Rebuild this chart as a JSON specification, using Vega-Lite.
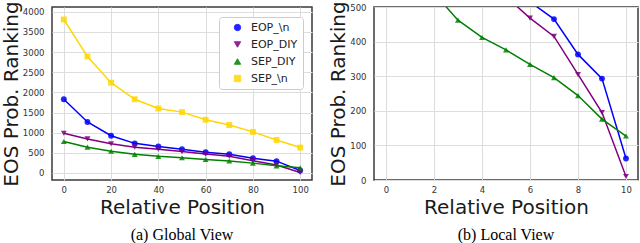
{
  "$schema": "https://vega.github.io/schema/vega-lite/v6.json",
  "padding": {"left": 0, "top": 0, "right": 2, "bottom": 0},
  "background": "white",
  "datasets": {
    "d": [
      {"series": "EOP_\\n", "pos": 0, "idx": 0, "rank": 1830},
      {"series": "EOP_\\n", "pos": 10, "idx": 1, "rank": 1265},
      {"series": "EOP_\\n", "pos": 20, "idx": 2, "rank": 925},
      {"series": "EOP_\\n", "pos": 30, "idx": 3, "rank": 735},
      {"series": "EOP_\\n", "pos": 40, "idx": 4, "rank": 655},
      {"series": "EOP_\\n", "pos": 50, "idx": 5, "rank": 590},
      {"series": "EOP_\\n", "pos": 60, "idx": 6, "rank": 515},
      {"series": "EOP_\\n", "pos": 70, "idx": 7, "rank": 465},
      {"series": "EOP_\\n", "pos": 80, "idx": 8, "rank": 363},
      {"series": "EOP_\\n", "pos": 90, "idx": 9, "rank": 293},
      {"series": "EOP_\\n", "pos": 100, "idx": 10, "rank": 62},
      {"series": "EOP_DIY", "pos": 0, "idx": 0, "rank": 985},
      {"series": "EOP_DIY", "pos": 10, "idx": 1, "rank": 845},
      {"series": "EOP_DIY", "pos": 20, "idx": 2, "rank": 725},
      {"series": "EOP_DIY", "pos": 30, "idx": 3, "rank": 640},
      {"series": "EOP_DIY", "pos": 40, "idx": 4, "rank": 590},
      {"series": "EOP_DIY", "pos": 50, "idx": 5, "rank": 530},
      {"series": "EOP_DIY", "pos": 60, "idx": 6, "rank": 468},
      {"series": "EOP_DIY", "pos": 70, "idx": 7, "rank": 415},
      {"series": "EOP_DIY", "pos": 80, "idx": 8, "rank": 305},
      {"series": "EOP_DIY", "pos": 90, "idx": 9, "rank": 195},
      {"series": "EOP_DIY", "pos": 100, "idx": 10, "rank": 10},
      {"series": "SEP_DIY", "pos": 0, "idx": 0, "rank": 780},
      {"series": "SEP_DIY", "pos": 10, "idx": 1, "rank": 640},
      {"series": "SEP_DIY", "pos": 20, "idx": 2, "rank": 540},
      {"series": "SEP_DIY", "pos": 30, "idx": 3, "rank": 462},
      {"series": "SEP_DIY", "pos": 40, "idx": 4, "rank": 412},
      {"series": "SEP_DIY", "pos": 50, "idx": 5, "rank": 376},
      {"series": "SEP_DIY", "pos": 60, "idx": 6, "rank": 334},
      {"series": "SEP_DIY", "pos": 70, "idx": 7, "rank": 296},
      {"series": "SEP_DIY", "pos": 80, "idx": 8, "rank": 244},
      {"series": "SEP_DIY", "pos": 90, "idx": 9, "rank": 176},
      {"series": "SEP_DIY", "pos": 100, "idx": 10, "rank": 127},
      {"series": "SEP_\\n", "pos": 0, "idx": 0, "rank": 3810},
      {"series": "SEP_\\n", "pos": 10, "idx": 1, "rank": 2890},
      {"series": "SEP_\\n", "pos": 20, "idx": 2, "rank": 2240},
      {"series": "SEP_\\n", "pos": 30, "idx": 3, "rank": 1830},
      {"series": "SEP_\\n", "pos": 40, "idx": 4, "rank": 1600},
      {"series": "SEP_\\n", "pos": 50, "idx": 5, "rank": 1510},
      {"series": "SEP_\\n", "pos": 60, "idx": 6, "rank": 1320},
      {"series": "SEP_\\n", "pos": 70, "idx": 7, "rank": 1190},
      {"series": "SEP_\\n", "pos": 80, "idx": 8, "rank": 1020},
      {"series": "SEP_\\n", "pos": 90, "idx": 9, "rank": 820},
      {"series": "SEP_\\n", "pos": 100, "idx": 10, "rank": 630}
    ]
  },
  "config": {
    "font": "DejaVu Sans",
    "view": {"stroke": "#3a3a3a", "strokeWidth": 1.5},
    "axis": {
      "grid": true, "gridColor": "#dddddd", "gridWidth": 1,
      "domain": false, "ticks": false, "format": "d",
      "labelFont": "DejaVu Sans", "labelFontSize": 8.5, "labelColor": "#333333",
      "titleFont": "DejaVu Sans", "titleFontSize": 20, "titleFontWeight": "normal", "titleColor": "#1a1a1a"
    },
    "axisX": {"labelPadding": 5, "titlePadding": 4},
    "axisY": {"labelPadding": 8, "titlePadding": 1},
    "concat": {"spacing": 15},
    "title": {"font": "Liberation Serif", "fontSize": 16, "fontWeight": "normal", "color": "#000000", "orient": "bottom", "anchor": "middle", "frame": "group", "offset": 9}
  },
  "hconcat": [
    {
      "width": 260, "height": 173,
      "title": {"text": "(a) Global View"},
      "data": {"name": "d"},
      "encoding": {
        "x": {"field": "pos", "type": "quantitative", "title": "Relative Position",
              "scale": {"domain": [-5, 105], "nice": false, "zero": false},
              "axis": {"values": [0, 20, 40, 60, 80, 100]}},
        "y": {"field": "rank", "type": "quantitative", "title": "EOS Prob. Ranking",
              "scale": {"domain": [-175, 4120], "nice": false, "zero": false},
              "axis": {"values": [0, 500, 1000, 1500, 2000, 2500, 3000, 3500, 4000]}},
        "color": {"field": "series", "type": "nominal", "title": null,
                  "scale": {"domain": ["EOP_\\n", "EOP_DIY", "SEP_DIY", "SEP_\\n"], "range": ["#0000ff", "#800080", "#008000", "#ffd700"]},
                  "legend": {"orient": "none", "legendX": 167, "legendY": 10, "fillColor": "white", "strokeColor": "#cccccc", "cornerRadius": 3, "padding": 5, "labelFontSize": 11, "labelColor": "#222222", "symbolSize": 40, "symbolOffset": 8, "labelOffset": 8, "rowPadding": 5, "symbolStrokeWidth": 1}}
      },
      "layer": [
        {"mark": {"type": "line", "strokeWidth": 1.5}, "encoding": {"detail": {"field": "series"}}},
        {"mark": {"type": "point", "filled": true, "size": 35, "opacity": 0.85},
         "encoding": {"shape": {"field": "series", "type": "nominal",
                                "scale": {"domain": ["EOP_\\n", "EOP_DIY", "SEP_DIY", "SEP_\\n"], "range": ["circle", "triangle-down", "triangle-up", "square"]}, "title": null}}}
      ]
    },
    {
      "width": 264, "height": 173,
      "title": {"text": "(b) Local View"},
      "data": {"name": "d"},
      "encoding": {
        "x": {"field": "idx", "type": "quantitative", "title": "Relative Position",
              "scale": {"domain": [-0.5, 10.5], "nice": false, "zero": false},
              "axis": {"values": [0, 2, 4, 6, 8, 10]}},
        "y": {"field": "rank", "type": "quantitative", "title": "EOS Prob. Ranking",
              "scale": {"domain": [0, 500], "nice": false, "zero": false},
              "axis": {"values": [0, 100, 200, 300, 400, 500]}},
        "color": {"field": "series", "type": "nominal", "legend": null,
                  "scale": {"domain": ["EOP_\\n", "EOP_DIY", "SEP_DIY", "SEP_\\n"], "range": ["#0000ff", "#800080", "#008000", "#ffd700"]}}
      },
      "layer": [
        {"mark": {"type": "line", "strokeWidth": 1.5, "clip": true}, "encoding": {"detail": {"field": "series"}}},
        {"mark": {"type": "point", "filled": true, "size": 35, "opacity": 0.85, "clip": true},
         "encoding": {"shape": {"field": "series", "type": "nominal", "legend": null,
                                "scale": {"domain": ["EOP_\\n", "EOP_DIY", "SEP_DIY", "SEP_\\n"], "range": ["circle", "triangle-down", "triangle-up", "square"]}}}}
      ]
    }
  ],
  "resolve": {"scale": {"x": "independent", "y": "independent", "color": "independent", "shape": "independent"}, "legend": {"color": "independent", "shape": "independent"}}
}
